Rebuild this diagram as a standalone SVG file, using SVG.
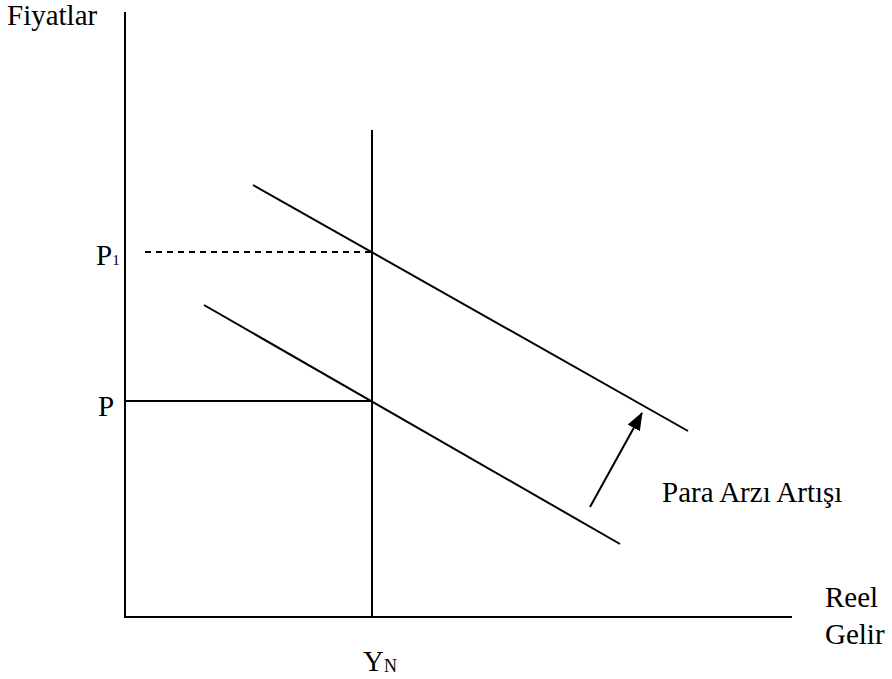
<svg xmlns="http://www.w3.org/2000/svg" width="892" height="679" viewBox="0 0 892 679">
<style>
text{font-family:'Liberation Serif','Times New Roman',serif;font-size:29px;fill:#000}
.ln{stroke:#000;stroke-width:2;fill:none}
.sub{font-size:18px}
.sub1{font-size:15px}
</style>
<defs>
<marker id="ah" viewBox="0 0 18 14" refX="17" refY="7" markerWidth="18" markerHeight="14" orient="auto" markerUnits="userSpaceOnUse">
<path d="M0,0 L18,7 L0,14 z" fill="#000"/>
</marker>
</defs>
<rect width="892" height="679" fill="#fff"/>
<g id="axes">
<line class="ln" x1="125" y1="12" x2="125" y2="618"/>
<line class="ln" x1="124" y1="617" x2="792" y2="617"/>
</g>
<g id="connectors">
<line class="ln" x1="372" y1="130" x2="372" y2="617"/>
<line class="ln" x1="253" y1="185" x2="688" y2="431"/>
<line class="ln" x1="204" y1="305" x2="620" y2="544"/>
<line class="ln" x1="145" y1="252" x2="372" y2="252" stroke-dasharray="6,5"/>
<line class="ln" x1="125" y1="401" x2="372" y2="401"/>
<line class="ln" x1="590" y1="507" x2="642" y2="413" marker-end="url(#ah)"/>
</g>
<g id="labels">
<text x="7" y="25">Fiyatlar</text>
<text x="96" y="265">P<tspan class="sub1">1</tspan></text>
<text x="98" y="416">P</text>
<text x="363" y="671">Y<tspan class="sub" dy="1">N</tspan></text>
<text x="662" y="502">Para Arzı Artışı</text>
<text x="825" y="607">Reel</text>
<text x="825" y="644">Gelir</text>
</g>
</svg>
